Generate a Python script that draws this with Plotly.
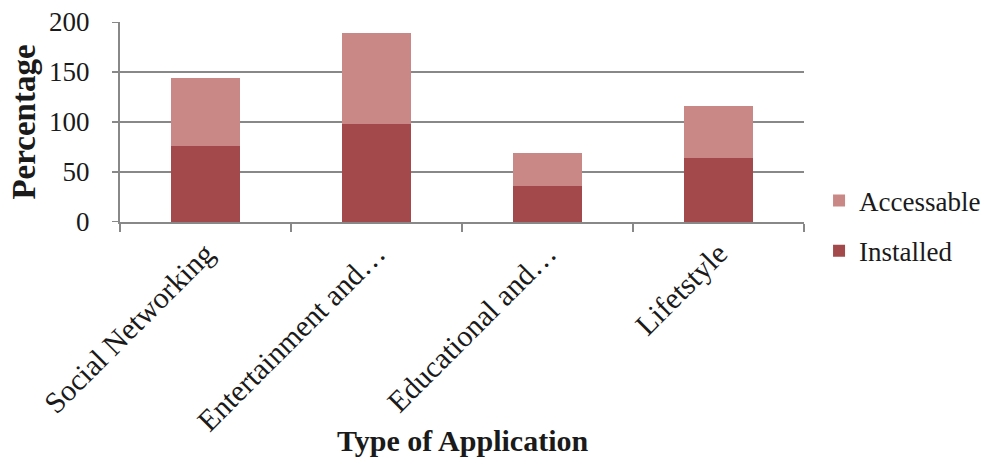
import plotly.graph_objects as go

categories = ["Social Networking", "Entertainment and…", "Educational and…", "Lifetstyle"]
installed = [76, 98, 36, 64]
accessable = [68, 91, 33, 52]

y_ticks = [0, 50, 100, 150, 200]

FONT = "Liberation Serif, Times New Roman, serif"

fig = go.Figure()
fig.add_trace(go.Bar(x=categories, y=installed, name="Installed",
                     marker=dict(color="#a4494b", line=dict(width=0)),
                     legendgroup="a", legendrank=2))
fig.add_trace(go.Bar(x=categories, y=accessable, name="Accessable",
                     marker=dict(color="#c98785", line=dict(width=0)),
                     legendgroup="b", legendrank=1))

# visible short tick marks on the y axis (labels are pushed out by a longer transparent tick)
tick_shapes = [
    dict(type="line", xref="paper", yref="y", x0=-8 / 684, x1=0, y0=v, y1=v,
         line=dict(color="#888888", width=2), layer="above")
    for v in y_ticks
]

fig.update_layout(
    barmode="stack",
    bargap=0.6,
    width=986, height=466,
    margin=dict(l=120, r=182, t=22, b=244, autoexpand=False),
    plot_bgcolor="white", paper_bgcolor="white",
    font=dict(family=FONT, size=27, color="#1a1a1a"),
    legend=dict(x=1.022, xanchor="left", y=-0.02, yanchor="middle",
                traceorder="grouped", tracegroupgap=12,
                font=dict(size=27), itemwidth=30),
    xaxis=dict(
        tickangle=-45, tickson="boundaries", ticks="outside", ticklen=8,
        tickcolor="#888888", tickwidth=2,
        showline=True, linecolor="#888888", linewidth=2,
        tickfont=dict(size=30), automargin=False,
    ),
    yaxis=dict(
        title=dict(text="<b>Percentage</b>", font=dict(size=33), standoff=4),
        range=[0, 200], tickvals=y_ticks, ticks="outside", ticklen=23,
        tickcolor="rgba(0,0,0,0)", tickwidth=2,
        showline=True, linecolor="#888888", linewidth=2,
        showgrid=True, gridcolor="#888888", gridwidth=2,
        zeroline=False, tickfont=dict(size=27), automargin=False,
    ),
    shapes=tick_shapes,
    annotations=[dict(
        text="<b>Type of Application</b>", xref="paper", yref="paper",
        x=0.5, y=-1.09, xanchor="center", yanchor="middle",
        showarrow=False, font=dict(size=30, family=FONT, color="#1a1a1a"),
    )],
)

fig.write_html("out.html")
